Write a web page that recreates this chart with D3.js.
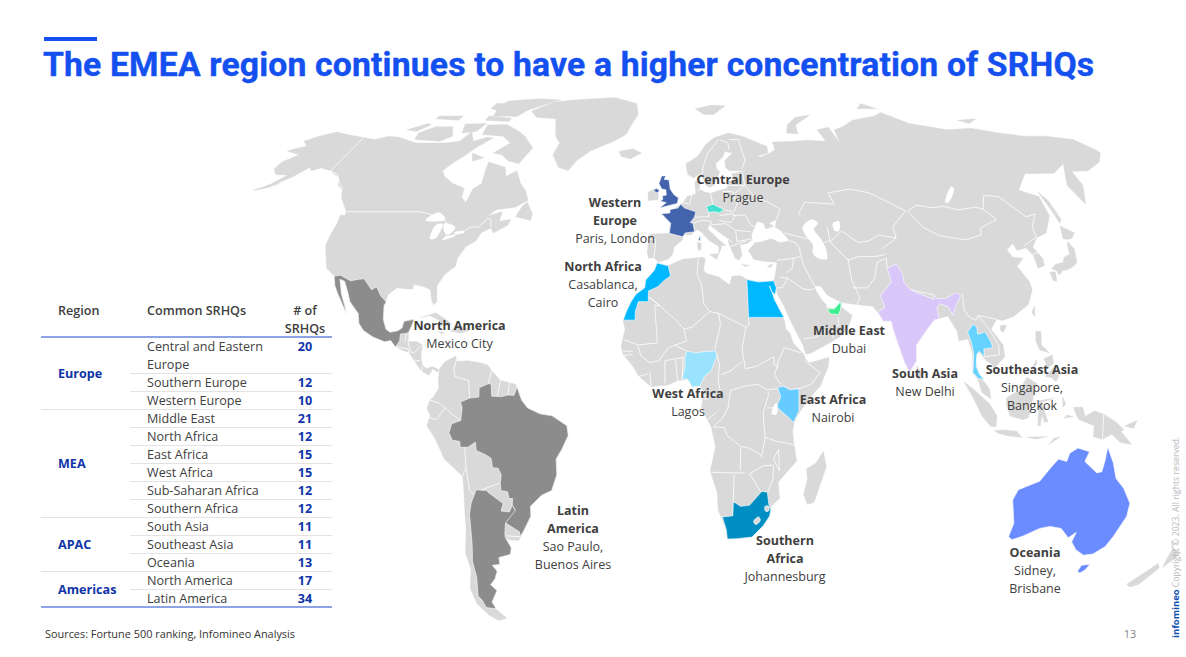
<!DOCTYPE html>
<html>
<head>
<meta charset="utf-8">
<script src="https://cdnjs.cloudflare.com/ajax/libs/d3/7.8.5/d3.min.js"></script>
<style>
  html, body { margin: 0; background: #fff; }
  svg { display: block; }
</style>
</head>
<body>
<div id="chart"></div>
<script>
// table content
var regions = ['Europe', 'MEA', 'APAC', 'Americas'];
var regionRows = [3, 6, 3, 2];
var srhqNames = ['Central and Eastern Europe', 'Southern Europe', 'Western Europe', 'Middle East', 'North Africa', 'East Africa', 'West Africa', 'Sub-Saharan Africa', 'Southern Africa', 'South Asia', 'Southeast Asia', 'Oceania', 'North America', 'Latin America'];
var srhqCounts = [20, 12, 10, 21, 12, 15, 15, 12, 12, 11, 11, 13, 17, 34];

// map labels: heading lines, then city lines
var labelHeads = [['Central Europe'], ['Western', 'Europe'], ['North Africa'], ['North America'], ['Middle East'], ['South Asia'], ['Southeast Asia'], ['East Africa'], ['West Africa'], ['Latin', 'America'], ['Southern', 'Africa'], ['Oceania']];
var labelCities = [['Prague'], ['Paris, London'], ['Casablanca,', 'Cairo'], ['Mexico City'], ['Dubai'], ['New Delhi'], ['Singapore,', 'Bangkok'], ['Nairobi'], ['Lagos'], ['Sao Paulo,', 'Buenos Aires'], ['Johannesburg'], ['Sidney,', 'Brisbane']];

// Robinson table, every 5 degrees of latitude
var robLat = d3.range(0, 95, 5);
var robLen = [1, .9986, .9954, .99, .9822, .973, .96, .9427, .9216, .8962, .8679, .835, .7986, .7597, .7186, .6732, .6213, .5722, .5322];
var robDepth = [0, .062, .124, .186, .248, .31, .372, .434, .4958, .5571, .6176, .6769, .7346, .7903, .8435, .8936, .9394, .9761, 1];

// land, lon/lat
var northAmerica = [[-164,54.7],[-160,55.5],[-157,57],[-154,58.5],[-152,60],[-151,61],[-149,60],[-146,60.8],[-141,60],[-138,59],[-135,58],[-133,56],[-130,54.8],[-128,52.5],[-125,50.5],[-123,49],[-122.7,48],[-124.5,48.2],[-124,46],[-124.3,43],[-124.2,40.4],[-122.5,37.7],[-120.6,34.5],[-117.2,32.6],[-115.8,30],[-114.2,28],[-112,25.5],[-110,23],[-111,25],[-113,28],[-114.8,31.7],[-113,31.2],[-111,28.5],[-109.5,26],[-106,23],[-105.3,20.5],[-103.5,18.7],[-100,17],[-96,15.8],[-94,16.1],[-92,14.5],[-90,13.7],[-87.5,13],[-85.7,11],[-84,9.3],[-82.8,8.2],[-80.5,7.3],[-79.5,8.9],[-77.5,8],[-77.4,8.7],[-79.5,9.5],[-81.5,9],[-83,10],[-83.6,12.5],[-83.2,15],[-85.5,15.9],[-88.2,15.8],[-88.3,18.3],[-87.5,20],[-87,21.5],[-90.3,21],[-90.7,19.3],[-92,18.6],[-94.5,18.2],[-96,19],[-97.3,21.5],[-97.7,25],[-97,27.8],[-94.5,29.5],[-91,29.2],[-89,29.2],[-89,30.4],[-85,29.7],[-83,29],[-81.8,26],[-81,25.2],[-80.1,26],[-81,30],[-79,33],[-76,35],[-76,37],[-74,40],[-71,41.5],[-70,43.5],[-67,44.8],[-65.5,43.5],[-61,45.5],[-60.5,47],[-64.5,46.5],[-64.5,49],[-69,48],[-71,46.9],[-67,49.5],[-60,50.2],[-56,52],[-58,54.5],[-61,56.5],[-64.5,60],[-68,58.5],[-70,61],[-78,62.5],[-77.5,60],[-76.5,56.5],[-79,55],[-79.5,51.5],[-82,52.8],[-82.5,55.2],[-88,56.5],[-93,58.5],[-95,60],[-92.5,62.5],[-90,64],[-87,66.5],[-82,69.5],[-85,69.7],[-90,68.5],[-94,71.5],[-96,68.5],[-102,68],[-108,68],[-115,68],[-125,69.7],[-130,70],[-135,69],[-141,69.6],[-148,70.3],[-156.5,71.3],[-162,70],[-166,68.5],[-162,67],[-165,66.5],[-168,65.6],[-161,64.5],[-165,62.5],[-165,60.5],[-162,59],[-157,58.8],[-160,56.5]];
var southAmerica = [[-77.4,8.7],[-75.5,10.7],[-72,12.2],[-71.5,10.8],[-68,11],[-64,10.5],[-61.5,10],[-60,8.5],[-57,6],[-52,5],[-50,1],[-48,-1],[-44,-2.5],[-40,-3],[-35.2,-5.5],[-34.8,-8],[-37,-11.5],[-39,-14],[-39,-18],[-41,-22],[-44.5,-23.2],[-48.5,-26],[-48.7,-28.5],[-52,-32.5],[-54,-34.7],[-57,-34.5],[-58.4,-34],[-57,-36.5],[-57.7,-38.2],[-62,-39],[-62.3,-40.8],[-65,-41],[-63.8,-42.5],[-65.3,-44.5],[-67.5,-46],[-65.8,-47.5],[-69,-50.5],[-68.5,-52.4],[-65.5,-54.8],[-69,-55.4],[-72,-54],[-75,-51],[-75.5,-47],[-73,-42],[-73.5,-38],[-71.5,-32],[-71,-28],[-70.3,-20],[-70.4,-18.3],[-76,-14],[-78.5,-9],[-81.2,-5.5],[-80,-3],[-81,-1],[-80,1],[-78.8,2],[-77.2,4],[-77.5,7]];
var africa = [[-5.9,35.8],[-2,35.1],[3,36.8],[10,37.3],[11,36.9],[10.2,34],[11,33.2],[15.3,32.3],[19,30.3],[20,32.5],[23,32.6],[25,31.6],[29,31],[32.3,31.2],[32.5,30],[33.5,28],[34,26.5],[35.5,24],[37,21],[37.3,19],[38.6,18],[39.5,15.5],[43,12.5],[43.3,11.5],[44.5,10.4],[51.2,11.9],[50.8,9.5],[48,4.5],[45,2],[41.5,-1.7],[39.5,-4.5],[39,-7],[39.5,-10],[40.6,-14.5],[37,-17.8],[34.8,-19.8],[35.5,-24],[32.8,-26],[32.5,-28.5],[30.5,-31],[27,-33.8],[22,-34.2],[18.5,-34.3],[18,-32],[15,-27],[14.5,-22.5],[12,-17],[13.7,-11],[12.3,-6],[9,-1],[9.7,3],[8.8,4.5],[6,4.3],[4.5,6.3],[1,5.9],[-2,4.8],[-7.5,4.4],[-11.5,7],[-13.5,9.5],[-15,11],[-16.8,12.5],[-17.5,14.7],[-16.3,19],[-17,21],[-16,23.5],[-14.5,26],[-13,27.8],[-10,29.5],[-9.7,31.5],[-6.8,34]];
var eurasia = [[-9,37],[-9.5,38.8],[-8.8,43.2],[-1.8,43.4],[-1.2,46],[-4.7,48.4],[-1.5,48.7],[1.5,50.5],[3.5,51.4],[5,53],[8.5,53.7],[8.3,57],[10.5,57.7],[10,55],[12,54.2],[14.2,53.9],[18.5,54.8],[21,55.2],[21.2,57],[24,57.5],[23.5,59.2],[28,59.7],[30,60],[25,60],[22.8,60],[21.3,61],[21.5,63],[25.2,65],[22,65.5],[21,64],[17.5,62],[17.5,60.7],[18.8,59.7],[16.5,57],[16,56.1],[14.3,55.5],[12.7,56],[11.2,58.8],[10.5,59.2],[8,58],[5.5,59],[5,62],[10,64],[14,67.5],[18,69.5],[25,71],[31,70],[41,67],[40.5,65],[35,64],[37,63.9],[40,64.6],[44,66],[44,68.3],[54,68.5],[60,68.8],[68,68.5],[67,72],[73,72.8],[74,68],[75,72],[80,73],[87,75],[100,76.5],[105,77.7],[113,74],[128,72],[140,72.5],[150,71],[160,70],[170,70],[180,69],[184,66],[184,65],[179,62.5],[170,60],[163,59.8],[162,56],[156.7,51],[155.7,56],[163,62],[155,59.3],[143,59.2],[135,54.7],[141,53],[140,48],[135,43.5],[130.7,42.3],[127.5,39.8],[129.4,37],[129,35.2],[126.4,34.5],[126.5,37.7],[125,39.7],[121.5,39],[121,40.8],[118,39.2],[119,37.3],[122.5,37],[119.3,35],[121.9,31],[122,29],[119.5,25.3],[114,22.3],[110,21.2],[108,21.5],[105.7,19],[109,15],[109.2,12],[105,8.7],[105,10],[103,11],[100.5,13.5],[99.3,11],[100.5,7],[103.5,4],[104,1.3],[101,3],[100,6],[98.3,8],[98.7,12.5],[97.6,16.5],[94.5,16],[94.3,18.5],[91.8,22.3],[90,22],[87,21.3],[85,19.5],[80.3,15],[80,11],[77.5,8],[76,10.5],[73,19],[72.7,21],[70,21],[69,22.5],[67,24.8],[62,25.2],[57,25.7],[54.5,26.6],[52,27.7],[50,30],[48,30],[48.5,28.5],[50,26.5],[51.5,25],[51,24.5],[54,24.2],[56.4,26],[56.5,24.5],[59.8,22.5],[57.8,19],[55,17],[52,15.7],[45,12.8],[43.5,12.7],[42.7,15],[39,21],[37,25],[35,28],[34.9,29.5],[34.3,31.3],[35,33],[36,36],[32,36.2],[28,36.7],[26.3,39],[29,41],[31,41.2],[35,42],[38,41],[41.5,41.5],[39,44],[37,45],[38,47],[35,46],[36.5,45.2],[33.5,44.5],[33,46],[30.7,46.5],[28,43],[28,41.7],[26.2,40.8],[23.5,40.5],[24,38],[22.8,36.5],[21.5,37],[19.5,41],[19.5,42],[14,45],[13,45.7],[12.3,44.5],[16,41.9],[18.5,40.2],[17,40.3],[16.5,39],[15.7,38],[16,40],[12.3,41.7],[10.3,43.5],[8.5,44.4],[6,43],[3.2,43.2],[3.2,41.8],[0,39.8],[-0.5,38],[-2,36.8],[-5.5,36],[-7,37.2]];
var sinai = [[32.3,31.2],[34.3,31.3],[34.9,29.5],[34.3,27.8],[32.6,30]];
var islands = [
  [[-73,78.2],[-68,76],[-58,75.5],[-54,70],[-51,68],[-52,64.5],[-48,61],[-43.5,60],[-41,63],[-36,65.8],[-27,68.5],[-22,70.5],[-20,74],[-18,77],[-20,81],[-33,83.5],[-55,82.5],[-65,81.5]],
  [[-80,73.7],[-72,71.5],[-68,70],[-62,66.5],[-65,62],[-70,62.8],[-74,64.5],[-78,65],[-73,68],[-78,70],[-88,70.5],[-89,73.5]],
  [[-117,69],[-105,68.5],[-101,70],[-105,73],[-113,73],[-118,71]],
  [[-125,72],[-118,74],[-116,73.5],[-120,71.5]],
  [[-90,76.5],[-78,76.3],[-75,78.5],[-65,81.8],[-62,82.5],[-75,83],[-90,82],[-92,80]],
  [[-92,75],[-80,74.6],[-80,75.7],[-92,76.5]],
  [[-117,75.5],[-105,75],[-105,76.5],[-117,76.5]],
  [[-95,79],[-88,78],[-87,81],[-95,81]],
  [[-87,65],[-81,63.7],[-85,62.7]],
  [[-59,47.7],[-53,46.7],[-53,48.5],[-56,51.5],[-57.5,50.5]],
  [[-100,73.8],[-90,74],[-92,71.5],[-98,71]],
  [[-165,54.8],[-157,56.5],[-160,55.5]],
  [[-24,65.5],[-18,66.3],[-14,65],[-18.5,63.4],[-22.5,64]],
  [[11,79],[20,80.3],[27,80],[20,77],[15,77]],
  [[52,71],[57,70.7],[58,73.5],[68,76.8],[60,76],[54,73.5]],
  [[95,79],[105,79],[100,81]],
  [[138,75],[148,75.5],[142,74]],
  [[142,54.3],[143.5,52],[143.5,47],[142,46],[142,49]],
  [[140,42],[141.5,45.3],[145.3,43.5],[143,42],[141,41.8]],
  [[141,41.3],[142,39.5],[140.8,36],[139,35],[136,34],[132,34],[131,34.4],[133,35.5],[136,36],[137,37.3],[139.5,38],[140,40]],
  [[130,33.5],[132,33.5],[131.3,31.2],[130.2,31.3]],
  [[132.5,34],[134.5,34],[134,33.3],[132.7,32.8]],
  [[121.5,25],[121,22.2],[120.1,23.2]],
  [[109,20],[111,20],[109.7,18.2],[108.7,18.8]],
  [[80,9.7],[81.8,7.5],[80.6,6],[79.8,7]],
  [[120.5,18.5],[122.2,18.4],[121.7,15],[124,13],[121,13.7],[120,16]],
  [[122,7],[125.5,9.7],[126.5,7],[125.5,5.7],[124,6.7]],
  [[122,11.5],[125,12.5],[125,10.2],[123,9.2]],
  [[117.3,8.4],[119.5,11.3],[119.4,10]],
  [[109,1.5],[111.5,2.7],[113.2,3.2],[116,6.8],[119.2,5.2],[118,2.2],[117.5,0.5],[116.3,-3.5],[114.5,-4],[110.2,-3],[109,0]],
  [[95.3,5.6],[98,4],[103.5,0],[106,-3],[105.8,-5.8],[104,-5.7],[101,-3],[98.5,1]],
  [[105.3,-6.7],[108.5,-6.6],[112.7,-6.9],[114.5,-8.5],[110,-8.1],[106.5,-7.4]],
  [[119.8,0.8],[124.8,1.5],[120.5,0.4],[121.5,-1],[123,-0.9],[121.5,-1.7],[122.8,-4.5],[121.5,-4.6],[120.8,-2.7],[120.3,-5.5],[119.5,-5.5],[119.5,-3.3]],
  [[131,-0.8],[134,-0.8],[135,-3.2],[138,-1.7],[141,-2.6],[145,-4.5],[147.8,-6.5],[147,-7],[150.8,-10.3],[147,-9.8],[144,-7.7],[141,-9],[138,-8.3],[138,-5.5],[133,-4],[132,-2.8]],
  [[123.5,-10.3],[127,-8.4],[125,-8.7]],
  [[116,-8.4],[122.8,-8.3],[119,-8.9]],
  [[148,-5.6],[152,-4.2],[151,-6.2]],
  [[127.5,1.8],[128.5,0],[127.5,-0.8]],
  [[129,-2.8],[131,-3.2],[128,-3.6]],
  [[49.3,-12],[50.5,-16],[47.2,-25],[45,-25.5],[43.5,-23],[44.5,-19],[44,-16.5],[47,-15]],
  [[-85,21.9],[-80,23.2],[-75,20.8],[-74.2,20.2],[-77.7,19.9],[-78,21],[-82,22.5]],
  [[-74.4,18.5],[-73,19.9],[-69.8,19.6],[-68.4,18.6],[-71,18]],
  [[-78.3,18.4],[-76.3,18.1],[-77.5,17.8]],
  [[172.7,-34.5],[175.5,-37],[178.5,-37.7],[177,-39.7],[175.3,-41.6],[174.8,-39.8],[174.8,-37]],
  [[172.7,-40.5],[174.3,-41.7],[172.7,-43.7],[171,-45.9],[168.5,-46.6],[166.5,-45.9],[170,-43]],
  [[-10,52],[-6.2,52.2],[-6,53.5],[-7,55.2],[-10,54.2]],
  [[8.3,41],[9.7,41],[9.6,39.2],[8.6,39]],
  [[12.5,38],[15.6,38.2],[15.1,36.7]],
  [[23.6,35.5],[26.3,35.2],[24.7,34.9]],
  [[32.4,35],[34.5,35.6],[33.6,34.7]]
];
var lakes = [
  [[-92,46.8],[-88,48.8],[-84.7,47],[-87,46.5]],
  [[-87.8,42],[-86,42],[-85,45.8],[-87.5,45.5]],
  [[-84.5,46],[-80,45],[-81.7,43],[-83.5,43.8]],
  [[-83.3,41.7],[-79,42.8],[-79.2,43],[-83,42.2]],
  [[-79.7,43.3],[-76.3,43.5],[-76.3,44],[-79.3,43.8]],
  [[47,45],[51,47],[53,46],[51,44.5],[52.8,42],[54,39],[53.5,36.8],[50,37.3],[49,38.5],[49.5,40.5],[47.5,43]],
  [[58.5,46],[61,46.5],[60,44],[58.5,44]],
  [[103.7,51.5],[109.5,55.7],[109.9,55],[105,51.5]],
  [[32,-2.5],[33.5,0.3],[34,-1.2],[33.5,-2.7]]
];

// highlighted countries
var mexico = [[-117.1,32.5],[-115,32.7],[-111,31.3],[-108.2,31.7],[-106.5,31.8],[-103,29],[-101.5,29.8],[-99.5,27.5],[-97.2,25.9],[-97.7,25],[-97.3,21.5],[-96,19],[-94.5,18.2],[-92,18.6],[-90.7,19.3],[-90.3,21],[-87,21.5],[-87.5,20],[-88.3,18.3],[-89.1,17.9],[-91,17.8],[-91,16],[-92.2,14.5],[-94,16.1],[-96,15.8],[-100,17],[-103.5,18.7],[-105.3,20.5],[-106,23],[-109.5,26],[-111,28.5],[-113,31.2],[-114.8,31.7],[-113,28],[-111,25],[-110,23],[-112,25.5],[-114.2,28],[-115.8,30]];
var brazil = [[-51.5,4.3],[-50,1],[-48,-1],[-44,-2.5],[-40,-3],[-35.2,-5.5],[-34.8,-8],[-37,-11.5],[-39,-14],[-39,-18],[-41,-22],[-44.5,-23.2],[-48.5,-26],[-48.7,-28.5],[-52,-32.5],[-53.4,-33.7],[-53.2,-32.5],[-57.6,-30.2],[-55.8,-28.3],[-53.8,-27],[-54.6,-25.6],[-54.3,-24],[-55.5,-24],[-55.8,-22.3],[-58,-22],[-58,-20],[-57.5,-18],[-58.4,-16.3],[-60.2,-16.2],[-60.5,-13.8],[-62,-13],[-65.3,-11.8],[-65.4,-9.7],[-68,-11],[-70.5,-11],[-70.6,-9.5],[-73,-9.2],[-74,-7.3],[-73,-5],[-70,-4.2],[-69.5,-1],[-70,0.5],[-67,1.5],[-64,1.8],[-64,4.1],[-60.8,5.2],[-60,5],[-59.8,2],[-56.5,1.9],[-54.5,2.3],[-52.5,2.2]];
var argentina = [[-66.3,-21.8],[-62.7,-22],[-62.4,-22.4],[-57.6,-25.3],[-58.6,-27.2],[-55.8,-27.4],[-54.6,-25.6],[-53.8,-27.1],[-57.6,-30.2],[-58.4,-33],[-58.4,-34],[-57,-36.5],[-57.7,-38.2],[-62,-39],[-62.3,-40.8],[-65,-41],[-63.8,-42.5],[-65.3,-44.5],[-67.5,-46],[-65.8,-47.5],[-69,-50.5],[-68.4,-52.3],[-72,-52],[-72.5,-50],[-73.5,-49],[-71.8,-44],[-71.7,-40],[-70.5,-36],[-70,-33],[-69.5,-28],[-68.3,-25],[-67,-23]];
var morocco = [[-5.9,35.8],[-2,35.1],[-1.2,32.5],[-3.5,31.3],[-5.5,29.8],[-8.7,28.7],[-8.7,26],[-12,26],[-13,23.5],[-13,21.3],[-17,21.3],[-16,23.5],[-14.5,26],[-13,27.8],[-10,29.5],[-9.7,31.5],[-6.8,34]];
var egypt = [[25,31.6],[29,31],[32.3,31.2],[34.2,31.3],[34.9,29.5],[34.3,27.8],[33.2,28.6],[32.6,30],[33.5,28],[34,26.5],[35.5,24],[36.9,22],[25,22],[25,29.5]];
var nigeria = [[2.7,6.4],[3.6,9.5],[3.6,11.7],[4.2,13.5],[7,13],[10,13.3],[13.7,13.5],[14.2,12.2],[13.5,11],[12.3,8.5],[10,7],[8.6,4.6],[6,4.3],[4.5,6.3]];
var kenya = [[34,4.2],[36,4.5],[38,3.6],[41,3.9],[41,-1.7],[39.2,-4.7],[37.7,-3.5],[34,-1],[34,0],[35,1.8]];
var southAfrica = [[16.5,-28.7],[20,-28.4],[20,-24.8],[22.5,-26],[25.5,-25.7],[29.4,-22.2],[31.3,-22.4],[32,-25.5],[32.8,-26.9],[32.5,-28.5],[30.5,-31],[27,-33.8],[22,-34.2],[18.5,-34.3],[18,-32]];
var lesotho = [[27.2,-29.8],[28.8,-28.7],[29.4,-29.6],[28,-30.6]];
var eswatini = [[30.8,-26],[32,-26],[32,-27.2],[31,-27.2]];
var uae = [[51.6,24.1],[54,24.2],[56,25.8],[56.4,25.5],[56,24],[55.2,22.7],[52.5,22.9]];
var india = [[77.5,35.5],[79,33],[78.8,31],[80.5,29],[88,26.5],[88.2,27.8],[89,26.8],[92,26.8],[96,28.3],[97.3,27.5],[95,25],[93.5,22.5],[92.5,24.5],[92,24.8],[89.8,25.5],[88.5,24.5],[88.8,21.7],[87,21.3],[85,19.5],[80.3,15],[80,11],[77.5,8],[76,10.5],[73,19],[72.7,21],[70,21],[69,22.5],[68.5,23.5],[71,24.5],[70,27.5],[74.5,31],[74,34.5]];
var thailand = [[100,20.3],[97.7,18.3],[98.5,16],[99,13],[98.7,10.5],[98.3,8],[100,6.5],[102,6.2],[100.5,7.5],[99.5,9.5],[100,12.5],[100.9,13.4],[102.5,12],[102.5,14],[105.5,14.3],[105,16],[103.5,18.3],[101,17.7],[101,19.5]];
var australia = [[143,-10.9],[145.5,-15],[147.3,-18.9],[150.5,-21.4],[153.7,-25.2],[154,-28.6],[152,-33.7],[150.8,-36.2],[147.8,-38.1],[144.6,-38.4],[141,-37],[138.3,-35],[138.7,-32.6],[136.6,-34],[133,-31.6],[129,-31.1],[125.6,-31.6],[120.8,-33.5],[117.3,-34.5],[115.8,-33.7],[116.2,-30.3],[114,-24.4],[115.3,-21.8],[122,-19.6],[124.9,-16.3],[127.2,-14],[130,-14.6],[130.7,-12.5],[133.2,-11.2],[137.2,-12.1],[136,-14.6],[140.6,-17.5],[142.2,-17.2],[142.7,-14.2]];
var tasmania = [[145.8,-41],[148.6,-40.7],[148,-42.2],[146.8,-43],[145.5,-42.5]];
var britain = [[-5.5,50],[1.3,51.2],[1.7,52.7],[0,53.5],[-1.5,55],[-2,57.5],[-4,57.7],[-3.2,58.6],[-5,58.6],[-6,56.5],[-4.8,55],[-3.2,54.8],[-3,53.4],[-4.5,53.2],[-4.3,52.3],[-5.2,51.8],[-3,51.4]];
var ulster = [[-8,54.5],[-7,55.2],[-5.6,54.6],[-6.5,54]];
var france = [[2.5,51],[1.5,50],[-1.5,49.6],[-1.5,48.7],[-4.7,48.5],[-1.2,46],[-1.7,43.4],[3.2,42.5],[4,43.5],[7.5,43.8],[7,46],[6,46.2],[7.6,47.6],[8.2,49],[6,49.5],[4,50]];
var corsica = [[9.4,43],[9.5,41.5],[8.7,41.6]];
var czechia = [[12.2,50.3],[14.8,51],[16.5,50.4],[18.8,49.6],[17,48.7],[15,49],[13,48.8]];

var highlights = [
  { rings: [mexico, brazil, argentina], color: '#8c8c8c' },
  { rings: [britain, ulster, france, corsica], color: '#4364ac' },
  { rings: [czechia], color: '#45e0d2' },
  { rings: [morocco, egypt], color: '#00b8ff' },
  { rings: [uae], color: '#3df08f' },
  { rings: [india], color: '#d9c7f9' },
  { rings: [thailand], color: '#66d2ff' },
  { rings: [kenya], color: '#66ccff' },
  { rings: [nigeria], color: '#99e3ff' },
  { rings: [southAfrica], color: '#008fc2' },
  { rings: [australia, tasmania], color: '#6a8cff' }
];

// country borders drawn in white over the land
var borders = [
  [[-141,69.6],[-141,60],[-137,59],[-133,56.5],[-130,55]],
  [[-123,49],[-95,49],[-89,48],[-84.5,46.5],[-82.5,45],[-82.5,42.5],[-79,43],[-76.5,44],[-74.7,45],[-71.5,45],[-69,47.3],[-67.8,47],[-67,45]],
  [[-89.1,17.9],[-89.2,15.9]],[[-92,14.5],[-88,14],[-87.5,13]],[[-88.2,15.8],[-87,13.2]],[[-83.2,15],[-86,13],[-87,13.2]],[[-85.7,11],[-83.7,11]],[[-83,9.6],[-82.9,8.2]],
  [[-77.4,8.7],[-77.5,7]],
  [[-71.5,12],[-72.5,9],[-72,7],[-67.5,6],[-67,1.5]],
  [[-60,8.5],[-61,5.2],[-60.8,5.2]],[[-57,6],[-58,2]],[[-54,5.8],[-54.5,2.3]],
  [[-80,1],[-77,0.2],[-75,-1],[-78,-4],[-80.3,-3.4]],
  [[-75,-1],[-73,-2.5],[-70,-4.2]],
  [[-69,-11],[-69,-16],[-70.4,-18.3]],
  [[-69,-16],[-68.5,-22],[-67,-23]],
  [[-65,-22],[-58,-20]],
  [[-53.4,-33.7],[-58,-33.5]],
  [[8.5,37],[8,33],[9.5,30.2],[10,25.5],[12,23.5]],
  [[12,23.5],[15,23],[24,19.5],[25,20],[25,22]],
  [[12,23.5],[6,19.5],[3.3,19],[1,21],[-4.8,25],[-8.7,27.3]],
  [[-8.7,27.3],[-4.8,25],[-6.5,25],[-5.5,15.5],[-12,15],[-16.4,16.3]],
  [[3.3,19],[4.2,16],[0.2,14.9],[-2,14.2],[-5,11],[-8,10.5],[-11,12.3],[-12,15]],
  [[4.2,13.5],[0.2,14.9]],
  [[15,23],[15.5,20],[13.5,14]],[[24,19.5],[22.5,14],[23.5,9]],
  [[15.5,7.5],[18.5,8.3],[22.5,10.8]],
  [[14.2,12.5],[15,10],[14.5,6.2],[15.5,2],[16,2],[13,2.2],[9.8,2.2]],
  [[9.8,1],[13.2,2.2]],[[14,-2],[11,-4]],
  [[18.6,3.5],[17.7,-1],[16,-3.5],[13,-5.8],[16.5,-6],[17.5,-8],[22,-10.8],[24,-11],[28,-12.5],[29,-13.4],[30,-8.5],[29.5,-5],[29.3,-2],[31,2.2],[30.8,3.5],[27.5,5],[23,4.5],[18.6,3.5]],
  [[23.5,9],[27,9.5],[33,12],[33,10],[34,9.5],[33,7.5],[35,5]],
  [[31,3.7],[34,3.8]],[[36.5,14.3],[34.3,10.8],[34,9]],[[36.5,14.3],[42,13]],
  [[43,11],[48,8],[45,5],[41.5,4],[38,3.6],[35.8,4.7]],
  [[30.5,-1],[34,-1]],[[30,-8.5],[34,-9.5],[40.5,-10.5]],
  [[11.8,-17.3],[18.5,-17.5],[23.5,-17.5]],[[22,-11],[22,-13],[22,-17]],
  [[20,-18],[20,-22],[20,-28.5]],[[25,-17.8],[29.5,-15.7],[33,-15.5]],
  [[33,-15.7],[33,-19],[31.5,-22.3]],[[25.3,-17.8],[29,-22.2]],
  [[33,-14],[34.5,-11.5],[35,-17],[33,-14]],
  [[-3,5],[-3,11]],[[-8,8],[-7.5,4.4]],[[0.5,11],[1.2,6]],[[2.7,6.3],[3,12]],[[-3,11],[3,11.8]],
  [[-16.8,13.4],[-13.7,13.4]],[[-16.7,12.3],[-13.7,12.6]],[[-11.5,7],[-8.5,7.7]],
  [[-8.8,42],[-6.5,41.7],[-7,37.2]],
  [[6,51],[7,53.5]],[[14.2,53.9],[14.8,51]],[[9,54.8],[10,54.8]],
  [[7.5,44],[7,46],[10.5,46.8],[13.7,46.5],[13.7,45.6]],[[7.5,47.6],[13,47.7],[13,48.8]],
  [[3.3,51.4],[6,51]],
  [[19,54.4],[23,54.3],[24,51],[22.5,49],[19,49.5]],
  [[17,48],[22,48.5],[22.9,48],[21,46.2],[16.5,46.8]],
  [[22,48],[26.5,48.2],[28.2,45.5],[29.5,45.2]],[[22.5,44.2],[28,43.8]],
  [[22.5,41.3],[28,42]],[[13.7,45.6],[19,45.9],[22.5,44.2],[22.5,41.3]],[[19.4,42],[21,41]],[[20,40],[26,41.5]],
  [[23.7,51.7],[31,52],[34,52.3],[40,49.7],[38,47]],[[21,56],[28,56],[28,59.5]],[[23.7,53.9],[28,56],[31,53]],
  [[28,60.5],[30,63],[29,69],[25,69]],[[11.5,59],[12,61],[14.5,65],[20,69]],[[24,66],[24,68],[20.5,69]],
  [[36,36.5],[42,37],[44.5,37.5]],[[41.5,41.5],[43.5,41],[44.5,39.7]],[[44.5,39.7],[45,35.5],[48,30]],
  [[48,29.5],[46.5,29],[44,29.2],[39,32],[36.5,32.2]],[[42,37],[41,34.4],[38.8,33.4]],[[35,29.5],[37,29.5],[39,32]],
  [[43,16.5],[47,17],[52,19],[55,20],[55,22]],[[52,19],[53,16.6]],
  [[61,37],[61,31.5],[63,27],[61.5,25]],[[61,29.5],[66,29.5],[69,32],[71,36],[74.5,37]],[[61,36.5],[65,37.5],[71,37.5],[74.5,38]],
  [[53.5,41],[55.5,41.5],[61,36.5]],[[56,45],[56,41.3],[61,44],[66,41],[70,41.5]],[[70,41.5],[74,43],[80,42.2],[74,39.5]],
  [[47,48],[46.5,48.5],[50,51.5],[61,51],[60,54],[69,55],[76,54],[83,51],[87,49.2]],[[87,49.2],[80,45],[80,42.2]],
  [[40,43.5],[48,42]],
  [[87.8,49.2],[92,50.7],[98,50],[102,50.5],[107,49.5],[114,50.2],[116.5,49.7],[119.5,47],[116,46],[112,44.7],[111,43],[105,41.7],[96,42.8],[91,45],[87.8,49.2]],
  [[116.5,49.7],[120,53.3],[125.5,53],[131,47.7],[135,48.4],[131,45],[130.7,42.5]],
  [[124.5,40],[128,41.5],[130.7,42.4]],[[126,37.8],[128.5,38.5]],
  [[98,28],[97.5,24],[99,22],[101,21.3]],[[101,21.3],[102,22.5],[108,21.5]],[[102,22.5],[105,19],[107.5,15],[107.5,12.5]],[[102.5,12],[107.5,12.5]],
  [[141,-2.6],[141,-9]],[[74,34.5],[74.5,37]],[[80.5,29],[88,27.8]]
];

var width = 1186, height = 657;
var blue = '#1450f0', tableBlue = '#0f35a8', ink = '#404040';
var bodyFont = '"Open Sans", "Noto Sans", sans-serif';

var svg = d3.select('#chart').append('svg').attr('width', width).attr('height', height);

// Robinson, squeezed horizontally the way the picture is
var lenScale = d3.scaleLinear().domain(robLat).range(robLen);
var depthScale = d3.scaleLinear().domain(robLat).range(robDepth);
var xScale = d3.scaleLinear().domain([0, 100]).range([674, 674 + 305]);
var yScale = d3.scaleLinear().domain([0, 1]).range([404, 404 - 317.5]);
var ptX = function(d) { return xScale(d[0] * lenScale(Math.abs(d[1]))); };
var ptY = function(d) { return yScale((d[1] < 0 ? -1 : 1) * depthScale(Math.abs(d[1]))); };
var ringPath = d3.line().x(ptX).y(ptY);
var closedPath = d3.line().x(ptX).y(ptY).curve(d3.curveLinearClosed);
var lakePath = d3.line().x(ptX).y(ptY).curve(d3.curveCatmullRomClosed.alpha(0.5));

var gMap = svg.append('g');
gMap.selectAll('path.land').data([northAmerica, southAmerica, africa, eurasia, sinai].concat(islands)).join('path')
  .attr('class', 'land').attr('d', closedPath).attr('fill', '#d9d9d9').attr('stroke', '#d9d9d9').attr('stroke-width', 0.4);
gMap.selectAll('path.lake').data(lakes).join('path')
  .attr('class', 'lake').attr('d', lakePath).attr('fill', '#fff');
gMap.selectAll('path.border').data(borders).join('path')
  .attr('class', 'border').attr('d', ringPath).attr('fill', 'none').attr('stroke', '#fff').attr('stroke-width', 0.8);

highlights.forEach(function(h) {
  gMap.append('g').selectAll('path').data(h.rings).join('path')
    .attr('d', closedPath).attr('fill', h.color).attr('stroke', '#fff').attr('stroke-width', 0.6);
});
gMap.selectAll('path.enclave').data([lesotho, eswatini]).join('path')
  .attr('class', 'enclave').attr('d', lakePath).attr('fill', '#d9d9d9').attr('stroke', '#fff').attr('stroke-width', 0.8);

// header
svg.append('rect').attr('x', 44).attr('y', 37).attr('width', 53).attr('height', 4).attr('fill', blue);
svg.append('text').attr('x', 43).attr('y', 75.7).attr('fill', blue).attr('stroke', blue).attr('stroke-width', 0.4)
  .attr('font-family', 'Roboto, sans-serif').attr('font-weight', 700).attr('font-size', '33.7px').attr('letter-spacing', '0.17px')
  .text('The EMEA region continues to have a higher concentration of SRHQs');

// map labels
var labelX = [743, 615, 603, 459.5, 849, 925, 1032, 833, 688, 573, 785, 1035];
var labelY = [180, 203, 267, 326, 331, 374, 370, 400, 394, 511, 541, 553];
var gLabels = svg.append('g').attr('font-family', bodyFont).attr('font-size', '12.5px').attr('fill', ink).attr('text-anchor', 'middle');
labelHeads.forEach(function(head, i) {
  var lines = head.map(function(t) { return { t: t, bold: true }; })
    .concat(labelCities[i].map(function(t) { return { t: t, bold: false }; }));
  gLabels.append('g').selectAll('text').data(lines).join('text')
    .attr('x', labelX[i]).attr('y', function(d, j) { return labelY[i] + j * 18; })
    .attr('dy', '0.35em').attr('font-weight', function(d) { return d.bold ? 700 : 400; })
    .text(function(d) { return d.t; });
});

// table: one unit is one 18px text line below the header rule
var rowY = d3.scaleLinear().domain([0, 15]).range([337.5, 607.5]);
var gTable = svg.append('g').attr('font-family', bodyFont).attr('font-size', '12.6px');
['Region', 'Common SRHQs'].forEach(function(t, i) {
  gTable.append('text').attr('x', [58, 147][i]).attr('y', 310.7).attr('dy', '0.35em').attr('fill', ink).attr('font-weight', 600).text(t);
});
['# of', 'SRHQs'].forEach(function(t, i) {
  gTable.append('text').attr('x', 305).attr('y', 310.7 + i * 18).attr('dy', '0.35em').attr('text-anchor', 'middle').attr('fill', ink).attr('font-weight', 600).text(t);
});

var line = 0, rowIndex = 0;
regions.forEach(function(region, r) {
  var startLine = line;
  for (var k = 0; k < regionRows[r]; k++, rowIndex++) {
    var name = srhqNames[rowIndex];
    var parts = name === 'Central and Eastern Europe' ? ['Central and Eastern', 'Europe'] : [name];
    parts.forEach(function(p, j) {
      gTable.append('text').attr('x', 147).attr('y', rowY(line + j + 0.5)).attr('dy', '0.35em').attr('fill', ink).text(p);
    });
    gTable.append('text').attr('x', 305).attr('y', rowY(line + 0.5)).attr('dy', '0.35em').attr('text-anchor', 'middle')
      .attr('fill', tableBlue).attr('font-weight', 700).text(srhqCounts[rowIndex]);
    line += parts.length;
    var lastInGroup = k === regionRows[r] - 1;
    if (line < 15) {
      gTable.append('line').attr('x1', lastInGroup ? 41 : 130).attr('x2', 332).attr('y1', rowY(line)).attr('y2', rowY(line))
        .attr('stroke', '#e3e3e3').attr('stroke-width', 1);
    }
  }
  gTable.append('text').attr('x', 58).attr('y', rowY((startLine + line) / 2)).attr('dy', '0.35em')
    .attr('fill', tableBlue).attr('font-weight', 700).text(region);
});
[0, 15].forEach(function(v) {
  gTable.append('line').attr('x1', 41).attr('x2', 332).attr('y1', rowY(v) - 0.5).attr('y2', rowY(v) - 0.5)
    .attr('stroke', '#1f49c8').attr('stroke-width', 1.2);
});

// footer
svg.append('text').attr('x', 45).attr('y', 638).attr('font-family', bodyFont).attr('font-size', '10.9px').attr('fill', '#333')
  .text('Sources: Fortune 500 ranking, Infomineo Analysis');
svg.append('text').attr('x', 1130).attr('y', 638).attr('text-anchor', 'middle').attr('font-family', bodyFont).attr('font-size', '10.9px').attr('fill', '#7f7f7f').text('13');
var side = svg.append('text').attr('transform', 'translate(1179,638) rotate(-90)').attr('font-family', bodyFont);
side.append('tspan').attr('fill', '#0f4fb0').attr('font-weight', 700).attr('font-size', '9.5px').text('infomineo');
side.append('tspan').attr('fill', '#b8b8b8').attr('font-size', '8.7px').attr('dx', 2).text('Copyright © 2023. All rights reserved.');
</script>
</body>
</html>
